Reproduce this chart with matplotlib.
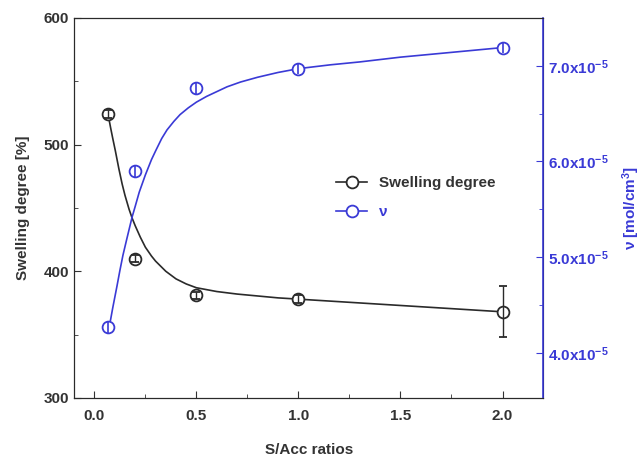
import numpy as np
import matplotlib
matplotlib.use('Agg')
import matplotlib.pyplot as plt
from matplotlib.ticker import FuncFormatter, MultipleLocator
from matplotlib.lines import Line2D

plt.rcParams['font.family'] = ['Liberation Sans', 'DejaVu Sans']
plt.rcParams['font.weight'] = 'bold'
plt.rcParams['mathtext.fontset'] = 'custom'
plt.rcParams['mathtext.bf'] = 'Liberation Sans:bold'
plt.rcParams['mathtext.rm'] = 'Liberation Sans:bold'
plt.rcParams['mathtext.default'] = 'bf'

# dados medidos
razoes = [0.067, 0.2, 0.5, 1.0, 2.0]
inchamento = [524, 410, 381, 378, 368]
erro_inchamento = [3, 3, 3, 3, 20]
nu = [4.27e-5, 5.90e-5, 6.77e-5, 6.97e-5, 7.19e-5]
erro_nu = [0.06e-5, 0.06e-5, 0.06e-5, 0.06e-5, 0.06e-5]

# curvas ajustadas
x_ajuste_inch = [0.067, 0.08, 0.09, 0.103, 0.12, 0.136, 0.15, 0.17, 0.185, 0.2,
                 0.225, 0.25, 0.28, 0.3, 0.35, 0.4, 0.45, 0.5, 0.6, 0.7,
                 0.8, 0.9, 1.0, 1.25, 1.5, 1.75, 2.0]
y_ajuste_inch = [524, 513, 505, 495, 481, 469, 460, 449, 442, 436,
                 427, 419, 412, 408, 400, 394, 390, 387, 384, 382,
                 380.5, 379, 378, 375.5, 373, 370.5, 368]
x_ajuste_nu = [0.073, 0.09, 0.111, 0.125, 0.14, 0.16, 0.185, 0.2, 0.22, 0.25,
               0.28, 0.3, 0.33, 0.356, 0.39, 0.42, 0.46, 0.5, 0.55, 0.6,
               0.65, 0.716, 0.8, 0.9, 1.0, 1.157, 1.3, 1.5, 1.75, 2.0]
y_ajuste_nu = [4.27e-5, 4.47e-5, 4.70e-5, 4.86e-5, 5.02e-5, 5.20e-5, 5.42e-5, 5.53e-5, 5.68e-5, 5.86e-5,
               6.02e-5, 6.11e-5, 6.24e-5, 6.33e-5, 6.42e-5, 6.49e-5, 6.56e-5, 6.62e-5, 6.68e-5, 6.73e-5,
               6.78e-5, 6.83e-5, 6.88e-5, 6.93e-5, 6.97e-5, 7.01e-5, 7.04e-5, 7.09e-5, 7.14e-5, 7.19e-5]

AZUL = '#3a3ad6'
PRETO = '#2a2a2a'


def formatar_nu(valor, pos=0):
    """
    formatar eixo direito: 7.0x10^-5
    """
    return f'{valor / 1e-5:.1f}x10$^{{-5}}$'


fig, ax = plt.subplots(figsize=(6.43, 4.59), dpi=100)
fig.subplots_adjust(left=0.115, right=0.845, bottom=0.133, top=0.961)
ax2 = ax.twinx()

# curva + fundo branco dos marcadores + barras de erro por cima
ax.plot(x_ajuste_inch, y_ajuste_inch, color=PRETO, lw=1.2, zorder=2)
ax.plot(razoes, inchamento, 'o', mfc='white', mec='none', ms=8.5, zorder=3)
ax.errorbar(razoes, inchamento, yerr=erro_inchamento, fmt='o', color=PRETO,
            mfc='none', mec=PRETO, ms=8.5, mew=1.3, capsize=3, elinewidth=1, zorder=4)

ax2.plot(x_ajuste_nu, y_ajuste_nu, color=AZUL, lw=1.2, zorder=2)
ax2.plot(razoes, nu, 'o', mfc='white', mec='none', ms=8.5, zorder=3)
ax2.errorbar(razoes, nu, yerr=erro_nu, fmt='o', color=AZUL,
             mfc='none', mec=AZUL, ms=8.5, mew=1.3, capsize=0, elinewidth=1.2, zorder=4)

ax.set_xlim(-0.1, 2.2)
ax.set_ylim(300, 600)
ax2.set_ylim(3.53e-5, 7.5e-5)

ax.xaxis.set_major_locator(MultipleLocator(0.5))
ax.xaxis.set_minor_locator(MultipleLocator(0.25))
ax.yaxis.set_major_locator(MultipleLocator(100))
ax.yaxis.set_minor_locator(MultipleLocator(50))
ax2.yaxis.set_major_locator(MultipleLocator(1e-5))
ax2.yaxis.set_minor_locator(MultipleLocator(0.5e-5))
ax2.yaxis.set_major_formatter(FuncFormatter(formatar_nu))
ax.xaxis.set_major_formatter(FuncFormatter(lambda v, p: f'{v:.1f}'))

ax.tick_params(axis='both', which='both', direction='in', labelsize=11, colors='#333333')
ax.tick_params(which='major', length=5)
ax.tick_params(which='minor', length=3)
ax.tick_params(axis='x', pad=8)
ax.tick_params(axis='y', right=False, top=False)
ax2.tick_params(axis='y', which='both', direction='in', colors=AZUL, labelsize=11)
ax2.tick_params(which='major', length=5)
ax2.tick_params(which='minor', length=3)

for s in ['left', 'top', 'bottom']:
    ax2.spines[s].set_color(PRETO)
ax2.spines['right'].set_color(AZUL)
ax2.spines['right'].set_linewidth(1.2)

ax.set_xlabel('S/Acc ratios', fontsize=11, fontweight='bold', color='#333333', labelpad=14)
ax.set_ylabel('Swelling degree [%]', fontsize=11, fontweight='bold', color='#333333', labelpad=10)
ax2.set_ylabel('ν [mol/cm$^{3}$]', fontsize=11, fontweight='bold', color=AZUL, labelpad=8)

h1 = Line2D([], [], color=PRETO, marker='o', mfc='white', mec=PRETO, ms=8.5, mew=1.3, lw=1.2)
h2 = Line2D([], [], color=AZUL, marker='o', mfc='white', mec=AZUL, ms=8.5, mew=1.3, lw=1.2)
leg = ax2.legend([h1, h2], ['Swelling degree', 'ν'], loc='upper left',
                 bbox_to_anchor=(0.53, 0.62), frameon=False, fontsize=11,
                 handlelength=2.0, labelspacing=1.0)
leg.get_texts()[0].set_color('#333333')
leg.get_texts()[1].set_color(AZUL)

plt.savefig('out.png', dpi=100)
plt.close('all')
